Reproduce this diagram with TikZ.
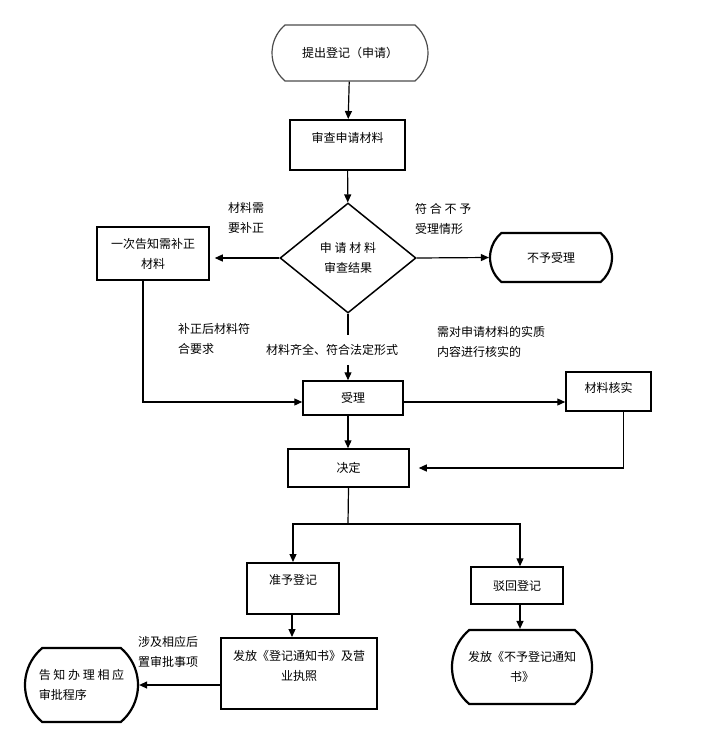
\documentclass[tikz,border=0pt]{standalone}
\usepackage{fontspec}
\setmainfont{Noto Sans CJK SC}
\usetikzlibrary{arrows.meta,shapes.geometric,shapes.misc}

\begin{document}
\begin{tikzpicture}[x=1pt, y=-1pt,
    every node/.style={font=\fontsize{12}{20}\selectfont},
    box/.style={draw, line width=1.5pt, inner sep=0pt, align=center},
    term/.style={draw, rounded rectangle, rounded rectangle arc length=100,
        line width=2.2pt, inner sep=0pt, align=center},
    note/.style={inner sep=0pt},
    link/.style={line width=1.2pt, -{Triangle[length=8pt,width=7pt]}},
    plain/.style={line width=1.2pt}]
    \useasboundingbox (0, 0) rectangle (702, 739);

    % Start
    \node[term, line width=1.2pt, draw=black!70, minimum width=156pt, minimum height=56pt] (start) at (350, 53) {提出登记（申请）};

    % Check of the papers
    \node[box, minimum width=115pt, text height=22.5pt, text depth=27.5pt, anchor=north] (shencha) at (347.5, 119) {审查申请材料};
    \node[draw, diamond, line width=1.5pt, minimum width=136pt, minimum height=110pt, inner sep=0pt, align=center] (jieguo) at (348, 258) {申 请 材 料\\审查结果};

    % Three outcomes of the check
    \node[box, minimum width=112pt, text height=41.5pt, text depth=11.5pt, anchor=north] (buzheng) at (153, 226) {一次告知需补正\\材料};
    \node[term, minimum width=122pt, minimum height=49pt] (buyu) at (551, 257.5) {不予受理};
    \node[box, minimum width=100pt, minimum height=34pt] (shouli) at (353, 398) {受理};
    \node[box, minimum width=85pt, text height=20.5pt, text depth=18.5pt, anchor=north] (heshi) at (608.5, 371) {材料核实};

    % Decision
    \node[box, minimum width=121pt, minimum height=38pt] (jueding) at (348.5, 468) {决定};
    \node[box, minimum width=92pt, text height=21.5pt, text depth=29.5pt, anchor=north] (zhunyu) at (293, 562) {准予登记};
    \node[box, minimum width=92pt, minimum height=37pt] (bohui) at (517, 585.5) {驳回登记};
    \node[box, minimum width=156pt, text height=42.5pt, text depth=28.5pt, anchor=north] (fafang) at (299, 637) {发放《登记通知书》及营\\业执照};
    \node[term, minimum width=140pt, minimum height=74pt] (fafangbu) at (522, 667) {发放《不予登记通知\\书》};
    \node[term, minimum width=113pt, minimum height=74pt, align=left] (gaozhi) at (81.5, 685) {告 知 办 理 相 应\\审批程序};

    % Labels
    \node[note, align=left] (lblxu) at (246, 218) {材料需\\要补正};
    \node[note, align=left, anchor=west] (lblfu) at (415, 219) {符 合 不 予\\受理情形};
    \node[note, align=left, anchor=west] (lblbu) at (178, 338.5) {补正后材料符\\合要求};
    \node[note, align=left, anchor=west] (lblhe) at (437, 342) {需对申请材料的实质\\内容进行核实的};
    \node[note, inner ysep=9pt] (lblok) at (332, 350) {材料齐全、符合法定形式};
    \node[note, align=left, anchor=west] (lblshe) at (138, 652) {涉及相应后\\置审批事项};

    % Connectors
    \draw[link] (start) -- (shencha);
    \draw[link] (shencha) -- (jieguo);
    \draw[link, shorten >=5pt] (jieguo.west) -- (buzheng.east |- jieguo.west);
    \draw[link] (jieguo.east) -- (buyu.west);
    \draw[plain] (jieguo.south) -- (jieguo.south |- lblok.north);
    \draw[link] (jieguo.south |- lblok.south) -- (jieguo.south |- shouli.north);
    \draw[link] ([xshift=-10pt]buzheng.south) |- ([yshift=-4pt]shouli.west);
    \draw[link] ([yshift=-4pt]shouli.east) -- ([yshift=-4pt]shouli.east -| heshi.west);
    \draw[link] (jieguo.south |- shouli.south) -- (jieguo.south |- jueding.north);
    \draw[link, shorten >=9pt] ([xshift=15pt]heshi.south) |- (jueding.east);

    % Branches of the decision
    \coordinate (fork) at (348, 524);
    \draw[plain] (jueding.south) -- (fork);
    \draw[link] (fork) -| (zhunyu.north);
    \draw[link] (fork) -| ([xshift=3pt]bohui.north);
    \draw[link] ([xshift=-1pt]zhunyu.south) -- ([xshift=-1pt]zhunyu.south |- fafang.north);
    \draw[link] ([xshift=3pt]bohui.south) -- ([xshift=3pt]bohui.south |- fafangbu.north);
    \draw[link] (fafang.west |- gaozhi.east) -- (gaozhi.east);
\end{tikzpicture}
\end{document}
